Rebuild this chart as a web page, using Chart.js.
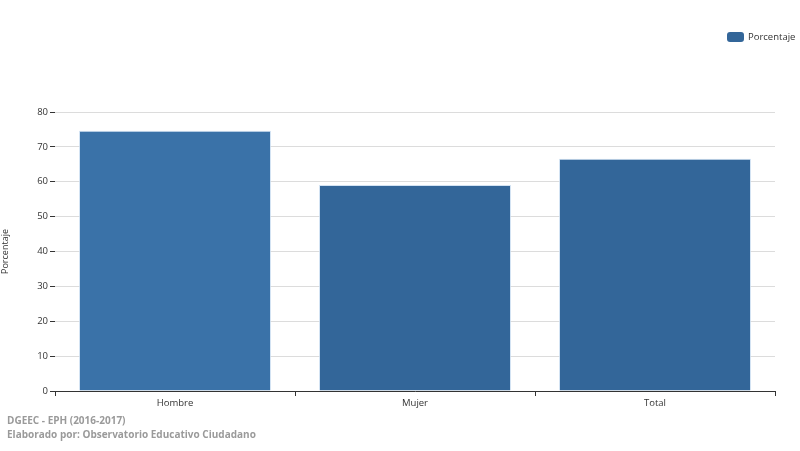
<!DOCTYPE html>
<html><head><meta charset="utf-8">
<script src="https://cdn.jsdelivr.net/npm/chart.js@4"></script>
<style>
html,body{margin:0;padding:0;background:#fff;width:800px;height:451px;overflow:hidden;font-family:"Open Sans",sans-serif}
#wrap{position:absolute;left:0;top:0;width:800px;height:451px}
.src{position:absolute;left:7px;color:#9a9a9a;font-weight:bold;font-size:10px}
#leg{position:absolute;left:727px;top:30px;font-size:9.5px;color:#333;display:flex;align-items:center}
#leg span.b{display:inline-block;width:17px;height:10px;background:#336699;border-radius:3px;margin-right:4px}
</style></head><body>
<div id="wrap"><canvas id="c" width="800" height="451"></canvas></div>
<div id="leg"><span class="b"></span>Porcentaje</div>
<div class="src" style="top:413px">DGEEC - EPH (2016-2017)</div>
<div class="src" style="top:427px">Elaborado por: Observatorio Educativo Ciudadano</div>
<script>
const categories = ["Hombre", "Mujer", "Total"];
const porcentaje = [74.6, 59.1, 66.6];
const barColors = ["#3a72a8", "#336699", "#336699"];
const yTicks = [0, 10, 20, 30, 40, 50, 60, 70, 80];

new Chart(document.getElementById('c'), {
  type: 'bar',
  data: { labels: categories, datasets: [{ label: 'Porcentaje', data: porcentaje, backgroundColor: barColors,
    borderColor: 'rgba(200,220,240,0.8)', borderWidth: 1, barPercentage: 0.8, categoryPercentage: 1 }] },
  options: {
    responsive: false, animation: false,
    layout: { padding: { top: 112, right: 25, bottom: 35, left: 0 } },
    plugins: { legend: { display: false }, tooltip: { enabled: false } },
    scales: {
      x: {
        afterFit: s => { s.height = 25; },
        grid: { offset: true, drawOnChartArea: false, tickLength: 5, color: '#333' },
        border: { color: '#333' },
        ticks: { color: '#333', font: { family: 'Open Sans', size: 9.5 }, padding: 2 }
      },
      y: {
        min: 0, max: 80,
        afterFit: s => { s.width = 55; },
        afterBuildTicks: s => { s.ticks = yTicks.map(v => ({ value: v })); },
        grid: { color: '#dcdcdc', tickLength: 5, tickColor: '#333' },
        border: { display: false },
        title: { display: true, text: 'Porcentaje', color: '#333', font: { family: 'Open Sans', size: 9 }, padding: 0 },
        ticks: { color: '#333', font: { family: 'Open Sans', size: 9.5 }, padding: 2 }
      }
    }
  }
});
</script>
</body></html>
